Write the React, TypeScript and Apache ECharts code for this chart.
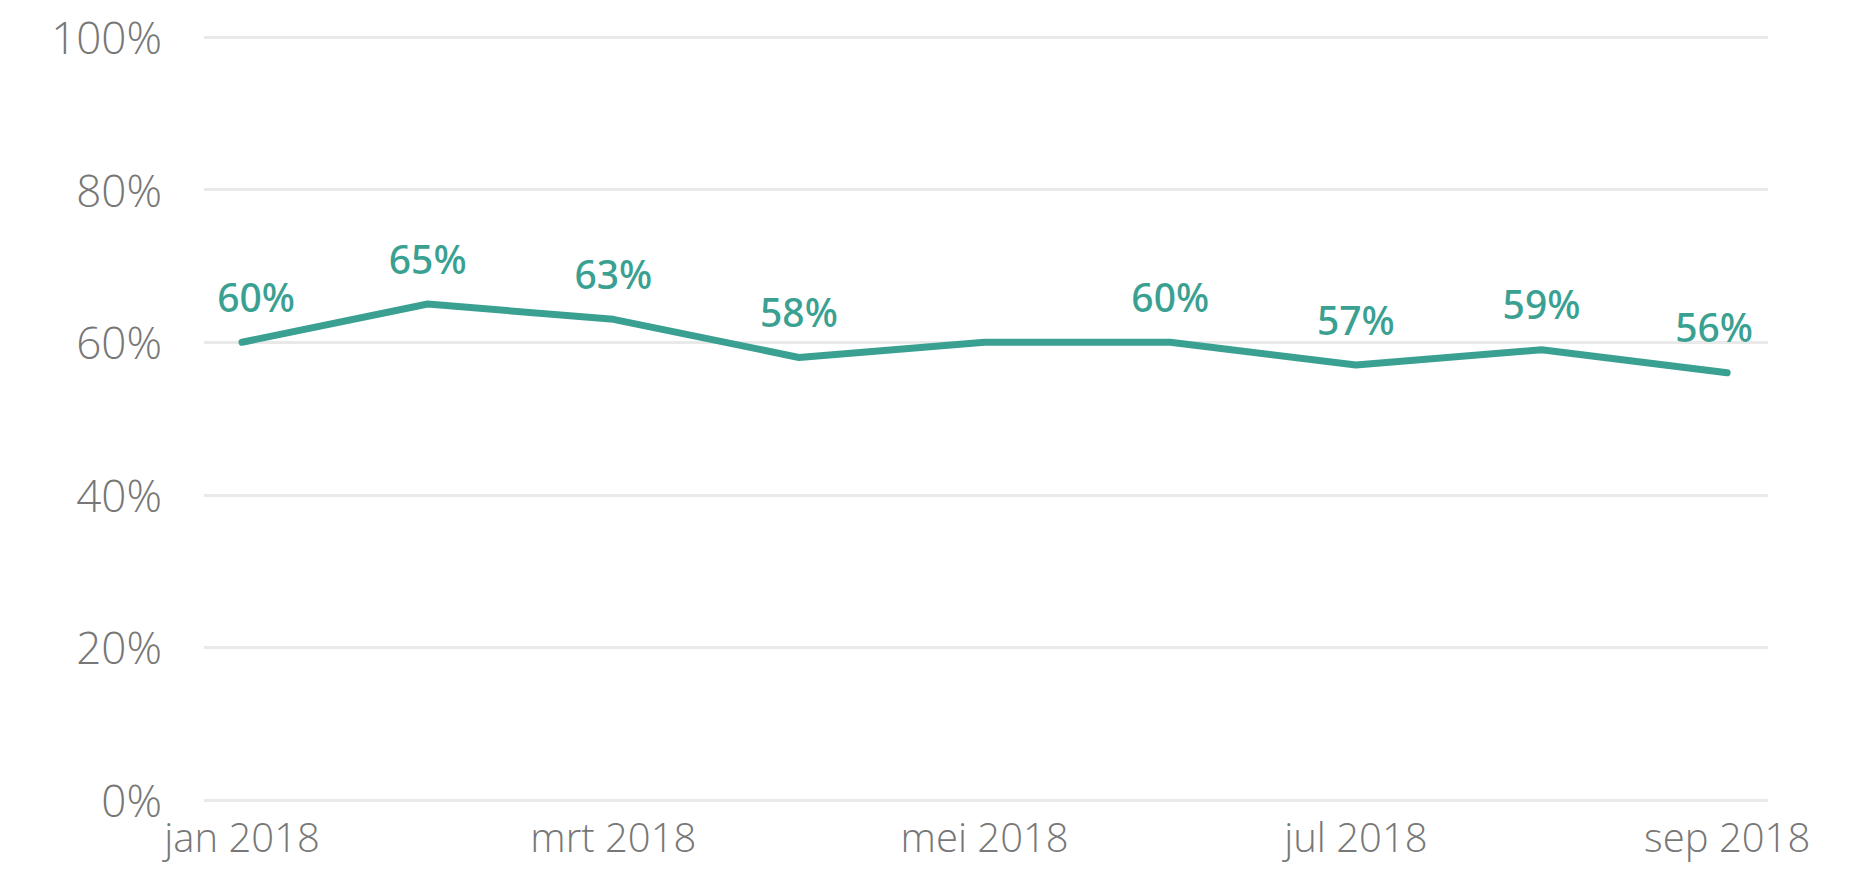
import React, { useEffect, useRef } from "react";
import * as echarts from "echarts";

const categories = ["jan 2018", "feb 2018", "mrt 2018", "apr 2018", "mei 2018", "jun 2018", "jul 2018", "aug 2018", "sep 2018"];
const values = [60, 65, 63, 58, 60, 60, 57, 59, 56];
const shownLabels = [true, true, true, true, false, true, true, true, true];
const xTickIndices = [0, 2, 4, 6, 8];
const yTicks = [0, 20, 40, 60, 80, 100];

const LINE_COLOR = "#3aa192";
const TEXT_GRAY = "#777777";

export default function App() {
  const ref = useRef<HTMLDivElement>(null);
  useEffect(() => {
    document.body.style.margin = "0";
    if (!ref.current) return;
    const chart = echarts.init(ref.current, undefined, { renderer: "svg" });
    const n = values.length;
    const data = values.map((v, i) => {
      let offsetX = 0;
      if (i === 0) offsetX = 14;
      if (i === n - 1) offsetX = -13;
      return {
        value: [i, v],
        label: { show: shownLabels[i], offset: [offsetX, 0] },
      };
    });
    chart.setOption({
      animation: false,
      grid: { left: 204, right: 96, top: 37, bottom: 74, containLabel: false },
      xAxis: {
        type: "value",
        min: -0.205,
        max: 8.22,
        axisLine: { show: false },
        axisTick: { show: false },
        splitLine: { show: false },
        axisLabel: {
          customValues: xTickIndices,
          formatter: (val: number) => categories[Math.round(val)] ?? "",
          color: TEXT_GRAY,
          fontFamily: "Open Sans",
          fontWeight: 300,
          fontSize: 40,
          margin: 16,
        },
      },
      yAxis: {
        type: "value",
        min: yTicks[0],
        max: yTicks[yTicks.length - 1],
        interval: 20,
        axisLine: { show: false },
        axisTick: { show: false },
        splitLine: { lineStyle: { color: "#e9e9e9", width: 3 } },
        axisLabel: {
          formatter: (val: number) => `${val}%`,
          color: TEXT_GRAY,
          fontFamily: "Open Sans",
          fontWeight: 300,
          fontSize: 44,
          margin: 42,
        },
      },
      series: [
        {
          type: "line",
          data,
          showSymbol: true,
          symbol: "circle",
          symbolSize: 3,
          lineStyle: { color: LINE_COLOR, width: 7, cap: "round", join: "round" },
          itemStyle: { color: LINE_COLOR, borderWidth: 0 },
          label: {
            show: true,
            position: "top",
            distance: 25,
            formatter: (p: any) => `${p.value[1]}%`,
            color: LINE_COLOR,
            fontFamily: "Noto Sans",
            fontWeight: 500,
            fontSize: 39,
          },
        },
      ],
    });
    return () => chart.dispose();
  }, []);
  return <div ref={ref} style={{ width: 1864, height: 874 }} />;
}
